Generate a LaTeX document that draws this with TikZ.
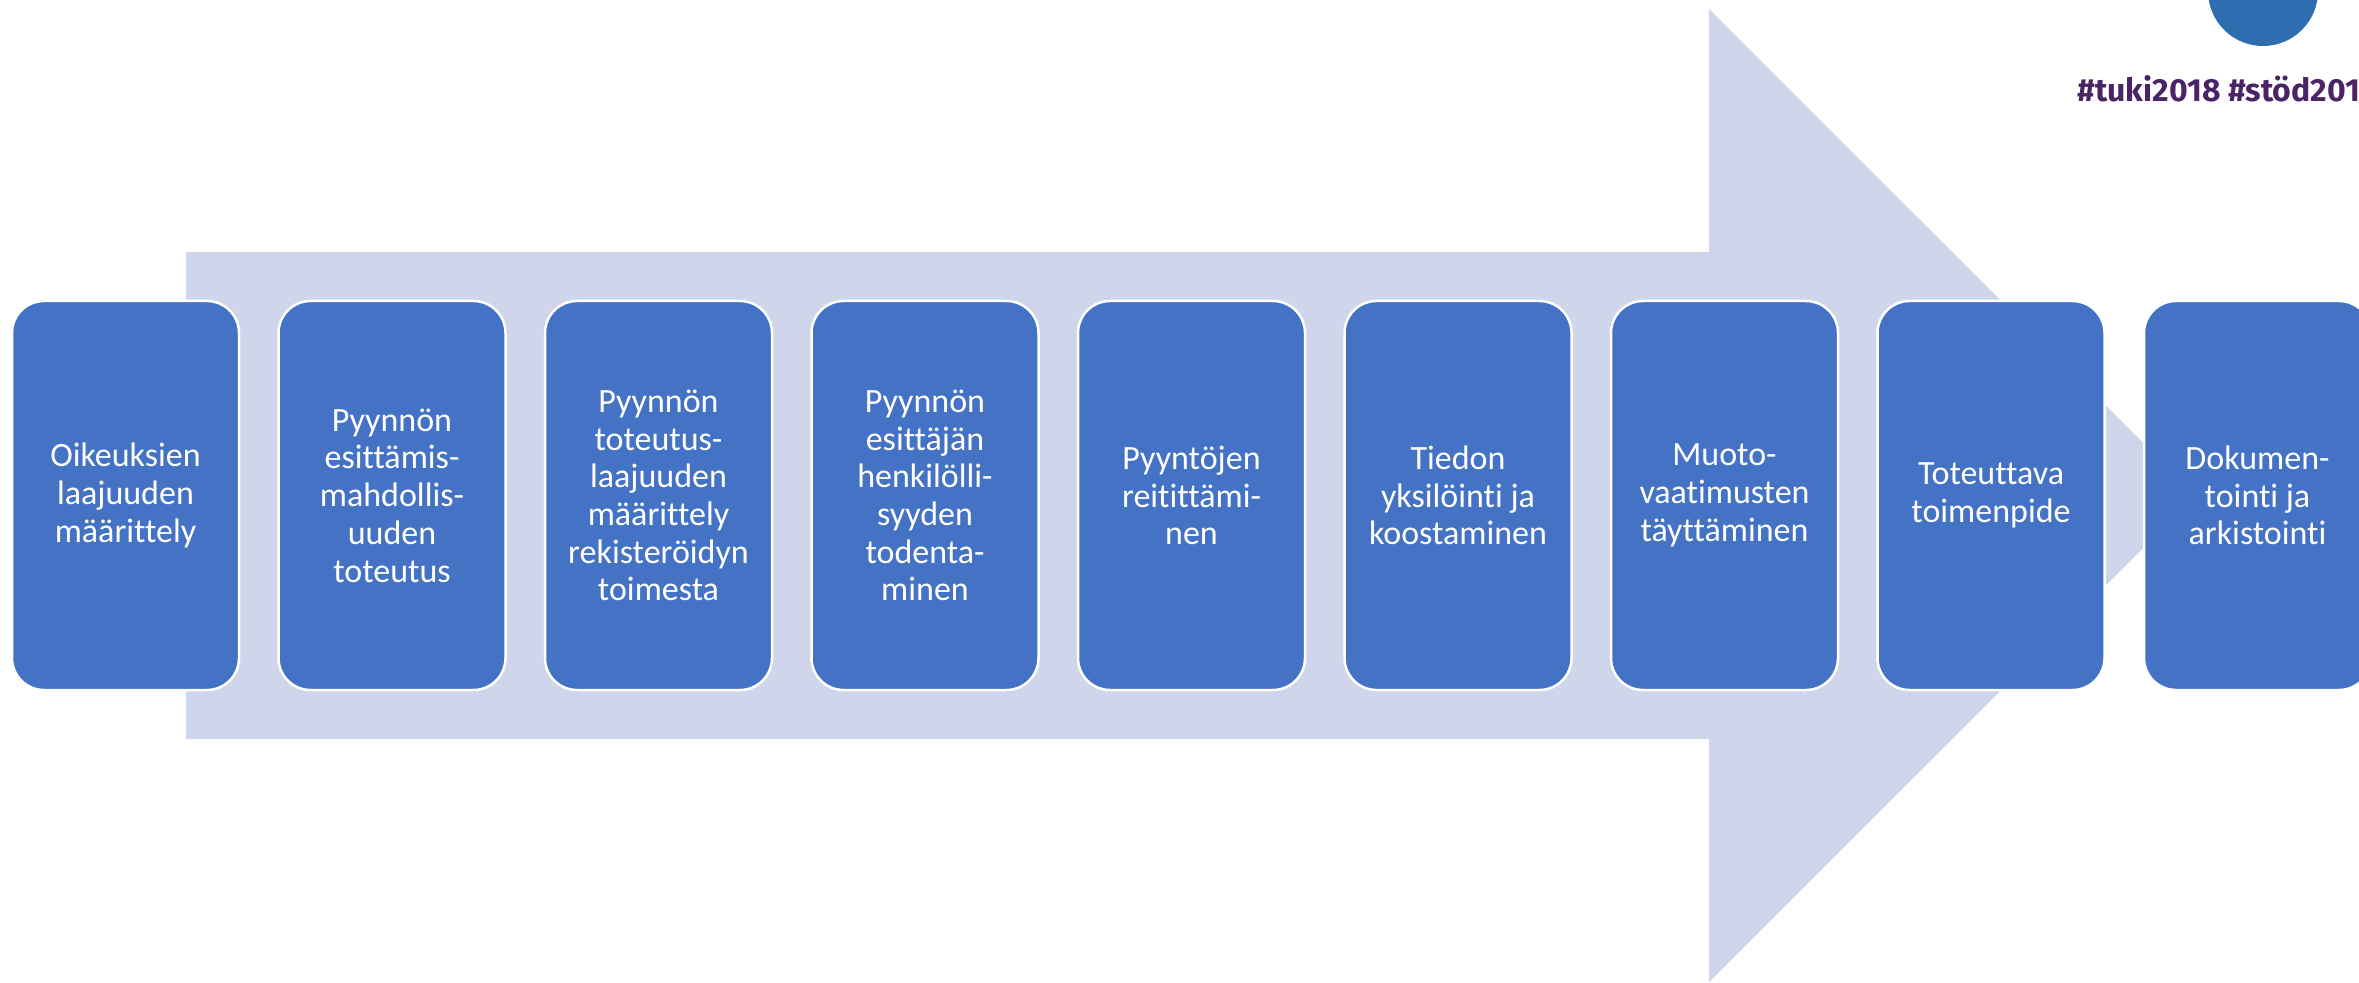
\documentclass[tikz,border=0pt]{standalone}
\usepackage{fontspec}
\setmainfont{Carlito}[RawFeature=-liga]
\newfontfamily\tagfont{Fira Sans}
\usetikzlibrary{positioning}

\definecolor{arrowfill}{HTML}{CFD5EA}
\definecolor{boxfill}{HTML}{4472C4}
\definecolor{dotblue}{HTML}{2E6DB0}
\definecolor{tagpurple}{HTML}{4A2466}

\begin{document}
\begin{tikzpicture}[x=0.5pt, y=-0.5pt,
  stepbox/.style={draw=white, line width=1.25pt, fill=boxfill,
    rounded corners=16pt, minimum width=113.5pt, minimum height=194.5pt,
    inner sep=0pt, align=center, text=white,
    font=\fontsize{17}{18.85}\selectfont},
  node distance=18.5pt]

  \useasboundingbox (0,0) rectangle (2359,983);

  \fill[arrowfill] (186,252) -- (1709,252) -- (1709,9) -- (2196,495.5)
    -- (1709,982) -- (1709,739) -- (186,739) -- cycle;

  \fill[dotblue] (2263,-9) circle (27.5pt);
  \node[anchor=base west, inner sep=0pt, text=tagpurple,
    font=\tagfont\bfseries\fontsize{16}{19}\selectfont] (tag) at (2077,102)
    {\#tuki2018 \#stöd201};

  \node[stepbox] (s1) at (125.5,495.5) {Oikeuksien\\laajuuden\\määrittely};
  \node[stepbox, right=of s1] (s2) {Pyynnön\\esittämis-\\mahdollis-\\uuden\\toteutus};
  \node[stepbox, right=of s2] (s3) {Pyynnön\\toteutus-\\laajuuden\\määrittely\\rekisteröidyn\\toimesta};
  \node[stepbox, right=of s3] (s4) {Pyynnön\\esittäjän\\henkilölli-\\syyden\\todenta-\\minen};
  \node[stepbox, right=of s4] (s5) {Pyyntöjen\\reitittämi-\\nen};
  \node[stepbox, right=of s5] (s6) {Tiedon\\yksilöinti ja\\koostaminen};
  \node[stepbox, right=of s6] (s7) {Muoto-\\vaatimusten\\täyttäminen};
  \node[stepbox, right=of s7] (s8) {Toteuttava\\toimenpide};
  \node[stepbox, right=of s8] (s9) {Dokumen-\\tointi ja\\arkistointi};

\end{tikzpicture}
\end{document}
